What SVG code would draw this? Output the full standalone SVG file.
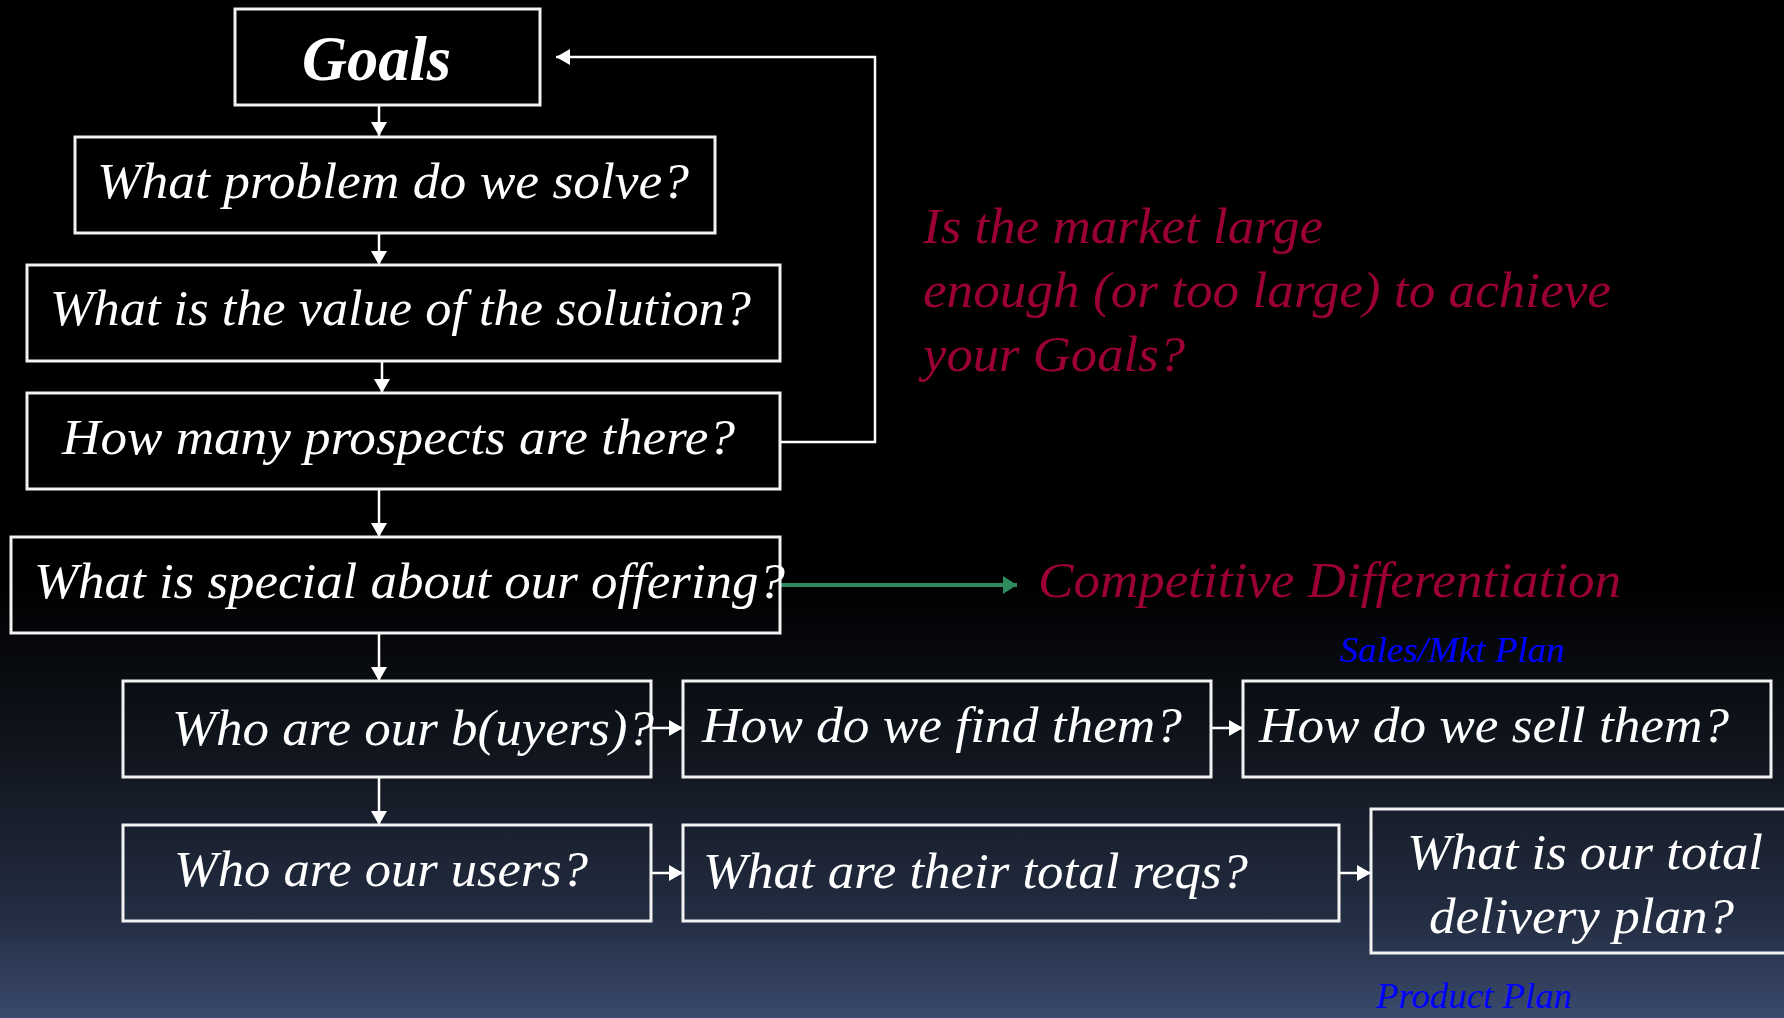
<svg xmlns="http://www.w3.org/2000/svg" width="1784" height="1018" viewBox="0 0 1784 1018">
<defs>
<linearGradient id="bg" x1="0" y1="0" x2="0" y2="1">
<stop offset="0" stop-color="#000000"/>
<stop offset="0.57" stop-color="#000000"/>
<stop offset="0.76" stop-color="#131822"/>
<stop offset="0.9" stop-color="#232d42"/>
<stop offset="1" stop-color="#3a4a6c"/>
</linearGradient>
<marker id="aw" markerUnits="userSpaceOnUse" markerWidth="16" markerHeight="16" refX="14" refY="8" orient="auto">
<path d="M0,0 L14,8 L0,16 z" fill="#ffffff"/>
</marker>
<marker id="ag" markerUnits="userSpaceOnUse" markerWidth="16" markerHeight="18" refX="14" refY="9" orient="auto">
<path d="M0,0 L14,9 L0,18 z" fill="#2e8b5e"/>
</marker>
<style>
.box{fill:none;stroke:#f2f2f2;stroke-width:3}
.t{font-family:"Liberation Serif","Times New Roman",serif;font-style:italic;font-size:50px;fill:#ffffff}
.r{font-family:"Liberation Serif","Times New Roman",serif;font-style:italic;font-size:50px;fill:#9b0035}
.b{font-family:"Liberation Serif","Times New Roman",serif;font-style:italic;font-size:35px;fill:#0000ff}
.c{fill:none;stroke:#ffffff;stroke-width:2.5}
</style>
</defs>
<rect x="0" y="0" width="1784" height="1018" fill="url(#bg)"/>

<g id="connectors">
<path class="c" d="M379,105 V136" marker-end="url(#aw)"/>
<path class="c" d="M379,233 V265" marker-end="url(#aw)"/>
<path class="c" d="M382,361 V393" marker-end="url(#aw)"/>
<path class="c" d="M379,489 V537" marker-end="url(#aw)"/>
<path class="c" d="M379,633 V681" marker-end="url(#aw)"/>
<path class="c" d="M379,777 V825" marker-end="url(#aw)"/>
<path class="c" d="M780,442 H875 V57 H556" marker-end="url(#aw)"/>
<path class="c" d="M651,728 H683" marker-end="url(#aw)"/>
<path class="c" d="M1211,728 H1243" marker-end="url(#aw)"/>
<path class="c" d="M651,873 H683" marker-end="url(#aw)"/>
<path class="c" d="M1339,873 H1371" marker-end="url(#aw)"/>
<path d="M781,585 H1017" fill="none" stroke="#2e8b5e" stroke-width="4" marker-end="url(#ag)"/>
</g>

<g id="goals">
<rect class="box" x="235" y="9" width="305" height="96"/>
<text x="302" y="80" font-family="Liberation Serif, Times New Roman, serif" font-style="italic" font-weight="bold" font-size="64" fill="#ffffff" textLength="149" lengthAdjust="spacingAndGlyphs">Goals</text>
</g>
<g id="problem">
<rect class="box" x="75" y="137" width="640" height="96"/>
<text class="t" x="97" y="198" textLength="592" lengthAdjust="spacingAndGlyphs">What problem do we solve?</text>
</g>
<g id="value">
<rect class="box" x="27" y="265" width="753" height="96"/>
<text class="t" x="50" y="325" textLength="701" lengthAdjust="spacingAndGlyphs">What is the value of the solution?</text>
</g>
<g id="prospects">
<rect class="box" x="27" y="393" width="753" height="96"/>
<text class="t" x="62" y="454" textLength="673" lengthAdjust="spacingAndGlyphs">How many prospects are there?</text>
</g>
<g id="special">
<rect class="box" x="11" y="537" width="769" height="96"/>
<text class="t" x="34" y="598" textLength="751" lengthAdjust="spacingAndGlyphs">What is special about our offering?</text>
</g>
<g id="buyers">
<rect class="box" x="123" y="681" width="528" height="96"/>
<text class="t" x="172" y="745" textLength="482" lengthAdjust="spacingAndGlyphs">Who are our b(uyers)?</text>
</g>
<g id="users">
<rect class="box" x="123" y="825" width="528" height="96"/>
<text class="t" x="174" y="886" textLength="414" lengthAdjust="spacingAndGlyphs">Who are our users?</text>
</g>
<g id="find">
<rect class="box" x="683" y="681" width="528" height="96"/>
<text class="t" x="702" y="742" textLength="480" lengthAdjust="spacingAndGlyphs">How do we find them?</text>
</g>
<g id="sell">
<rect class="box" x="1243" y="681" width="528" height="96"/>
<text class="t" x="1259" y="742" textLength="470" lengthAdjust="spacingAndGlyphs">How do we sell them?</text>
</g>
<g id="reqs">
<rect class="box" x="683" y="825" width="656" height="96"/>
<text class="t" x="703" y="888" textLength="545" lengthAdjust="spacingAndGlyphs">What are their total reqs?</text>
</g>
<g id="delivery">
<rect class="box" x="1371" y="809" width="420" height="144"/>
<text class="t" x="1407" y="869" textLength="356" lengthAdjust="spacingAndGlyphs">What is our total</text>
<text class="t" x="1429" y="933" textLength="305" lengthAdjust="spacingAndGlyphs">delivery plan?</text>
</g>

<g id="market-note">
<text class="r" x="923" y="243" textLength="400" lengthAdjust="spacingAndGlyphs">Is the market large</text>
<text class="r" x="923" y="307" textLength="688" lengthAdjust="spacingAndGlyphs">enough (or too large) to achieve</text>
<text class="r" x="923" y="371" textLength="262" lengthAdjust="spacingAndGlyphs">your Goals?</text>
</g>
<g id="competitive">
<text class="r" x="1038" y="597" textLength="583" lengthAdjust="spacingAndGlyphs">Competitive Differentiation</text>
<text class="b" x="1340" y="662" textLength="225" lengthAdjust="spacingAndGlyphs">Sales/Mkt Plan</text>
</g>
<g id="labels">
<text class="b" x="1376" y="1008" textLength="196" lengthAdjust="spacingAndGlyphs">Product Plan</text>
</g>
</svg>
